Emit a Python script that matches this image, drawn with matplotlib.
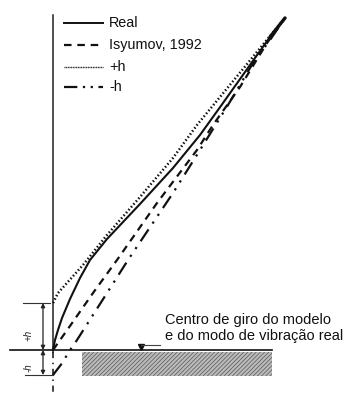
import matplotlib
matplotlib.use('Agg')
import matplotlib.pyplot as plt
from matplotlib.patches import Rectangle

plt.rcParams['font.family'] = ['Liberation Sans', 'DejaVu Sans']
plt.rcParams['hatch.linewidth'] = 0.5

# everything, in image pixels (y goes down)
real_x = [53, 55, 58, 62, 70, 80, 90, 107, 140, 173, 200, 223, 250, 270, 285]
real_y = [350, 340, 330, 318, 299, 278, 260, 239, 204, 168, 135, 103, 65, 37, 18]

isy_x = [53, 70, 93, 117, 157, 197, 213, 240, 267, 285]
isy_y = [350, 326, 293, 260, 203, 150, 125, 87, 43, 18]

plus_x = [53, 58, 83, 107, 140, 173, 197, 243, 270, 285]
plus_y = [303, 293, 265, 235, 197, 158, 125, 69, 36, 18]

minus_x = [53, 63, 68, 77, 107, 128, 173, 200, 228, 253, 270, 285]
minus_y = [375, 362, 353, 340, 293, 260, 193, 150, 105, 63, 40, 18]

legend_labels = ['Real', 'Isyumov, 1992', '+h', '-h']
legend_y = [23, 45, 67, 87]

dash_style = (0, (3.4, 2.6))
dot_style = (0, (0.6, 0.9))
dashdot_style = (0, (6.4, 3.2, 1, 3.2, 1, 3.2))

fig = plt.figure(figsize=(3.45, 3.96), dpi=100)
ax = fig.add_axes([0, 0, 1, 1])
ax.set_xlim(0, 345)
ax.set_ylim(396, 0)
ax.axis('off')

# axis and ground
ax.plot([53, 53], [15, 352], color='#222222', lw=1.1)
ax.plot([53, 53], [352, 396], color='#111111', lw=1.1, ls=(0, (4, 3, 1, 3)))
ax.plot([10, 272], [350, 350], color='#111111', lw=1.2)
ax.add_patch(Rectangle((82, 352), 190, 24, facecolor='#bbbbbb', edgecolor='#555555', hatch='////////', lw=0))

# curves
ax.plot(plus_x, plus_y, color='#111111', lw=1.8, ls=dot_style)
ax.plot(real_x, real_y, color='#111111', lw=1.5)
ax.plot(isy_x, isy_y, color='#111111', lw=1.6, ls=dash_style)
ax.plot(minus_x, minus_y, color='#111111', lw=1.6, ls=dashdot_style)
ax.plot([270, 285], [37, 18], color='#111111', lw=2.4, solid_capstyle='round')

# legend drawn by hand, like the original
styles = ['-', dash_style, (0, (0.7, 0.5)), (0, (6, 2.5, 1, 2.5, 1, 2.5))]
widths = [1.4, 1.6, 1.0, 1.6]
for lab, y, st, w in zip(legend_labels, legend_y, styles, widths):
    ax.plot([64, 103], [y, y], color='#111111', lw=w, ls=st)
    ax.text(109, y, lab, fontsize=10.4, color='#111111', va='center', ha='left')

# +h / -h dimensions
ax.plot([23, 50], [303, 303], color='#333333', lw=0.8)
ax.plot([25, 53], [375, 375], color='#333333', lw=0.8)
ax.annotate('', xy=(43, 303), xytext=(43, 350), arrowprops=dict(arrowstyle='<|-|>', color='#222222', lw=0.9, mutation_scale=6, shrinkA=0, shrinkB=0))
ax.annotate('', xy=(43, 350), xytext=(43, 375), arrowprops=dict(arrowstyle='<|-|>', color='#222222', lw=0.9, mutation_scale=6, shrinkA=0, shrinkB=0))
ax.text(28, 335, '+h', fontsize=7, rotation=90, style='italic', ha='center', va='center', color='#222222')
ax.text(28, 368, '-h', fontsize=7, rotation=90, style='italic', ha='center', va='center', color='#222222')

# pivot marker and note
ax.plot([141], [347], marker='v', ms=4.5, color='#111111')
ax.plot([141, 160], [345, 345], color='#444444', lw=0.8)
ax.text(165, 320, 'Centro de giro do modelo', fontsize=10.5, color='#111111', va='center', ha='left')
ax.text(165, 336, 'e do modo de vibração real', fontsize=10.5, color='#111111', va='center', ha='left')

fig.savefig('out.png', dpi=100)
